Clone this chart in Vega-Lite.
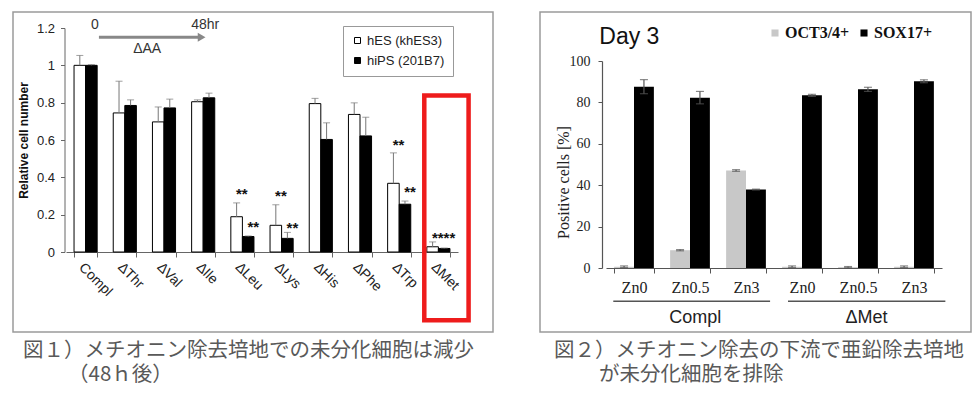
{
  "$schema": "https://vega.github.io/schema/vega-lite/v6.json",
  "padding": {"left": 2, "top": 11, "right": 0, "bottom": 0},
  "background": "white",
  "spacing": 45,
  "config": {
    "view": {"stroke": "#9a9a9a", "strokeWidth": 1.5},
    "font": "Liberation Sans",
    "axis": {"grid": false}
  },
  "resolve": {"scale": {"color": "independent"}, "legend": {"color": "independent"}},
  "datasets": {
    "cells": [
      {"aa": "Compl", "line": "hES (khES3)", "v": 1.0, "hi": 1.053},
      {"aa": "Compl", "line": "hiPS (201B7)", "v": 1.0, "hi": 1.004},
      {"aa": "∆Thr", "line": "hES (khES3)", "v": 0.745, "hi": 0.915},
      {"aa": "∆Thr", "line": "hiPS (201B7)", "v": 0.785, "hi": 0.815},
      {"aa": "∆Val", "line": "hES (khES3)", "v": 0.697, "hi": 0.777},
      {"aa": "∆Val", "line": "hiPS (201B7)", "v": 0.772, "hi": 0.819},
      {"aa": "∆Ile", "line": "hES (khES3)", "v": 0.805, "hi": 0.815},
      {"aa": "∆Ile", "line": "hiPS (201B7)", "v": 0.826, "hi": 0.851},
      {"aa": "∆Leu", "line": "hES (khES3)", "v": 0.189, "hi": 0.263},
      {"aa": "∆Leu", "line": "hiPS (201B7)", "v": 0.083, "hi": 0.086},
      {"aa": "∆Lys", "line": "hES (khES3)", "v": 0.143, "hi": 0.253},
      {"aa": "∆Lys", "line": "hiPS (201B7)", "v": 0.073, "hi": 0.105},
      {"aa": "∆His", "line": "hES (khES3)", "v": 0.795, "hi": 0.823},
      {"aa": "∆His", "line": "hiPS (201B7)", "v": 0.603, "hi": 0.692},
      {"aa": "∆Phe", "line": "hES (khES3)", "v": 0.737, "hi": 0.799},
      {"aa": "∆Phe", "line": "hiPS (201B7)", "v": 0.622, "hi": 0.722},
      {"aa": "∆Trp", "line": "hES (khES3)", "v": 0.368, "hi": 0.531},
      {"aa": "∆Trp", "line": "hiPS (201B7)", "v": 0.256, "hi": 0.273},
      {"aa": "∆Met", "line": "hES (khES3)", "v": 0.028, "hi": 0.054},
      {"aa": "∆Met", "line": "hiPS (201B7)", "v": 0.019, "hi": 0.021}
    ],
    "stars": [
      {"aa": "∆Leu", "line": "hES (khES3)", "y": 0.311, "t": "**"},
      {"aa": "∆Leu", "line": "hiPS (201B7)", "y": 0.132, "t": "**"},
      {"aa": "∆Lys", "line": "hES (khES3)", "y": 0.298, "t": "**"},
      {"aa": "∆Lys", "line": "hiPS (201B7)", "y": 0.129, "t": "**"},
      {"aa": "∆Trp", "line": "hES (khES3)", "y": 0.571, "t": "**"},
      {"aa": "∆Trp", "line": "hiPS (201B7)", "y": 0.32, "t": "**"},
      {"aa": "∆Met", "line": "hES (khES3)", "y": 0.075, "t": "****"}
    ],
    "pos": [
      {"k": "C-Zn0", "m": "OCT3/4+", "v": 0.6, "lo": 0.2, "hi": 1.0},
      {"k": "C-Zn0", "m": "SOX17+", "v": 87.6, "lo": 84.2, "hi": 91.0},
      {"k": "C-Zn0.5", "m": "OCT3/4+", "v": 8.6, "lo": 8.3, "hi": 8.9},
      {"k": "C-Zn0.5", "m": "SOX17+", "v": 82.3, "lo": 79.3, "hi": 85.3},
      {"k": "C-Zn3", "m": "OCT3/4+", "v": 47.1, "lo": 46.7, "hi": 47.5},
      {"k": "C-Zn3", "m": "SOX17+", "v": 37.9, "lo": 37.7, "hi": 38.1},
      {"k": "M-Zn0", "m": "OCT3/4+", "v": 0.6, "lo": 0.2, "hi": 1.0},
      {"k": "M-Zn0", "m": "SOX17+", "v": 83.4, "lo": 82.9, "hi": 83.9},
      {"k": "M-Zn0.5", "m": "OCT3/4+", "v": 0.4, "lo": 0.1, "hi": 0.7},
      {"k": "M-Zn0.5", "m": "SOX17+", "v": 86.3, "lo": 85.3, "hi": 87.3},
      {"k": "M-Zn3", "m": "OCT3/4+", "v": 0.6, "lo": 0.2, "hi": 1.0},
      {"k": "M-Zn3", "m": "SOX17+", "v": 90.2, "lo": 89.5, "hi": 90.9}
    ]
  },
  "hconcat": [
    {
      "width": 480,
      "height": 320,
      "title": {
        "text": ["図１）メチオニン除去培地での未分化細胞は減少", "\u200b\u3000\u3000\u2009（48ｈ後）"],
        "orient": "bottom", "anchor": "start", "frame": "group", "dx": 10, "offset": 9,
        "font": "Noto Sans CJK JP", "fontSize": 20.5, "fontWeight": "normal", "color": "#595959",
        "lineHeight": 24, "baseline": "top"
      },
      "resolve": {"scale": {"x": "independent"}},
      "layer": [
        {
          "data": {"name": "cells"},
          "encoding": {
            "x": {
              "field": "aa", "type": "nominal", "sort": null,
              "scale": {"type": "band", "range": [53, 445], "paddingInner": 0.41, "paddingOuter": 0.205}
            },
            "y": {
              "field": "v", "type": "quantitative",
              "scale": {"domain": [0, 1.2], "range": [240, 16], "nice": false, "zero": false}
            }
          },
          "layer": [
            {
              "transform": [{"filter": "datum.line === 'hES (khES3)'"}],
              "mark": {"type": "bar", "stroke": "black", "strokeWidth": 1, "width": {"band": 0.5}, "xOffset": -5.78},
              "encoding": {
                "x": {
                  "field": "aa", "type": "nominal", "sort": null,
                  "axis": {
                    "title": null, "offset": -80, "tickBand": "extent", "labelAngle": 45,
                    "labelAlign": "left", "labelBaseline": "top", "labelFontSize": 14,
                    "labelColor": "#222", "tickSize": 5, "labelPadding": 3, "labelOverlap": false,
                    "domainColor": "#666", "tickColor": "#666"
                  }
                },
                "y": {
                  "field": "v", "type": "quantitative",
                  "axis": {
                    "title": "Relative cell number", "titleFontWeight": "bold", "titleFontSize": 12,
                    "titleColor": "#111", "offset": -51.5, "values": [0, 0.2, 0.4, 0.6, 0.8, 1, 1.2],
                    "format": ".1~f", "labelFontSize": 13, "labelColor": "#222", "tickSize": 4,
                    "labelPadding": 6, "titlePadding": 6, "tickColor": "#666", "domainColor": "#666"
                  }
                },
                "color": {
                  "field": "line", "type": "nominal", "sort": null,
                  "scale": {"domain": ["hES (khES3)", "hiPS (201B7)"], "range": ["white", "black"]},
                  "legend": {
                    "orient": "none", "legendX": 330, "legendY": 14, "title": null,
                    "symbolType": "square", "symbolSize": 36, "symbolStrokeColor": "black",
                    "symbolStrokeWidth": 1, "labelFontSize": 13, "labelColor": "#222",
                    "strokeColor": "#999", "fillColor": "white", "padding": 8, "rowPadding": 6,
                    "labelOffset": 3
                  }
                }
              }
            },
            {
              "transform": [{"filter": "datum.line === 'hiPS (201B7)'"}],
              "mark": {"type": "bar", "stroke": "black", "strokeWidth": 1, "width": {"band": 0.5}, "xOffset": 5.78},
              "encoding": {
                "color": {"field": "line", "type": "nominal", "sort": null}
              }
            },
            {
              "transform": [{"filter": "datum.line === 'hES (khES3)'"}],
              "mark": {"type": "rule", "color": "#777", "strokeWidth": 1, "xOffset": -5.78},
              "encoding": {"y2": {"field": "hi"}}
            },
            {
              "transform": [{"filter": "datum.line === 'hiPS (201B7)'"}],
              "mark": {"type": "rule", "color": "#777", "strokeWidth": 1, "xOffset": 5.78},
              "encoding": {"y2": {"field": "hi"}}
            },
            {
              "transform": [{"filter": "datum.line === 'hES (khES3)'"}],
              "mark": {"type": "tick", "color": "#777", "size": 7, "thickness": 1, "xOffset": -5.78},
              "encoding": {"y": {"field": "hi", "type": "quantitative"}}
            },
            {
              "transform": [{"filter": "datum.line === 'hiPS (201B7)'"}],
              "mark": {"type": "tick", "color": "#777", "size": 7, "thickness": 1, "xOffset": 5.78},
              "encoding": {"y": {"field": "hi", "type": "quantitative"}}
            },
            {
              "data": {"name": "stars"},
              "transform": [{"filter": "datum.line === 'hES (khES3)'"}],
              "mark": {"type": "text", "align": "left", "baseline": "middle", "xOffset": -6.5, "fontSize": 15, "fontWeight": "bold", "color": "#111"},
              "encoding": {
                "y": {"field": "y", "type": "quantitative"},
                "text": {"field": "t"}
              }
            },
            {
              "data": {"name": "stars"},
              "transform": [{"filter": "datum.line === 'hiPS (201B7)'"}],
              "mark": {"type": "text", "align": "left", "baseline": "middle", "xOffset": 5, "fontSize": 15, "fontWeight": "bold", "color": "#111"},
              "encoding": {
                "y": {"field": "y", "type": "quantitative"},
                "text": {"field": "t"}
              }
            }
          ]
        },
        {
          "layer": [
            {
              "data": {"values": [{"x": 9.14, "x2": 10.27, "y": 0.839, "y2": -0.366}]},
              "mark": {"type": "rect", "fill": null, "fillOpacity": 0, "stroke": "#ee1c1c", "strokeWidth": 4.5},
              "encoding": {
                "x": {"field": "x", "type": "quantitative", "scale": {"domain": [0, 10], "range": [53, 445], "nice": false, "zero": false}, "axis": null},
                "x2": {"field": "x2"},
                "y": {"field": "y", "type": "quantitative", "scale": {"domain": [0, 1.2], "range": [240, 16], "nice": false, "zero": false}},
                "y2": {"field": "y2"}
              }
            },
            {
              "data": {"values": [{"x": 0.84, "x2": 3.4, "y": 1.15}]},
              "mark": {"type": "rule", "color": "#888", "strokeWidth": 3},
              "encoding": {
                "x": {"field": "x", "type": "quantitative", "scale": {"domain": [0, 10], "range": [53, 445], "nice": false, "zero": false}, "axis": null},
                "x2": {"field": "x2"},
                "y": {"field": "y", "type": "quantitative", "scale": {"domain": [0, 1.2], "range": [240, 16], "nice": false, "zero": false}}
              }
            },
            {
              "data": {"values": [{"x": 3.46, "y": 1.15}]},
              "mark": {"type": "point", "shape": "triangle-right", "filled": true, "color": "#888", "size": 80, "opacity": 1},
              "encoding": {
                "x": {"field": "x", "type": "quantitative", "scale": {"domain": [0, 10], "range": [53, 445], "nice": false, "zero": false}, "axis": null},
                "y": {"field": "y", "type": "quantitative", "scale": {"domain": [0, 1.2], "range": [240, 16], "nice": false, "zero": false}}
              }
            },
            {
              "data": {"values": [
                {"x": 0.74, "y": 1.214, "t": "0"},
                {"x": 3.55, "y": 1.214, "t": "48hr"},
                {"x": 2.07, "y": 1.086, "t": "ΔAA"}
              ]},
              "mark": {"type": "text", "align": "center", "baseline": "middle", "fontSize": 14, "color": "#333"},
              "encoding": {
                "x": {"field": "x", "type": "quantitative", "scale": {"domain": [0, 10], "range": [53, 445], "nice": false, "zero": false}, "axis": null},
                "y": {"field": "y", "type": "quantitative", "scale": {"domain": [0, 1.2], "range": [240, 16], "nice": false, "zero": false}},
                "text": {"field": "t"}
              }
            }
          ]
        }
      ]
    },
    {
      "width": 431,
      "height": 320,
      "title": {
        "text": ["図２）メチオニン除去の下流で亜鉛除去培地", "\u200b\u3000\u3000\u2009が未分化細胞を排除"],
        "orient": "bottom", "anchor": "start", "frame": "group", "dx": 14, "offset": 9,
        "font": "Noto Sans CJK JP", "fontSize": 20.5, "fontWeight": "normal", "color": "#595959",
        "lineHeight": 24, "baseline": "top"
      },
      "resolve": {"scale": {"x": "independent"}},
      "layer": [
        {
          "data": {"name": "pos"},
          "encoding": {
            "x": {
              "field": "k", "type": "nominal", "sort": null,
              "scale": {"type": "band", "range": [66, 402], "paddingInner": 0.29, "paddingOuter": 0.145}
            },
            "y": {
              "field": "v", "type": "quantitative",
              "scale": {"domain": [0, 100], "range": [256, 49], "nice": false, "zero": false}
            }
          },
          "layer": [
            {
              "transform": [{"filter": "datum.m === 'OCT3/4+'"}],
              "mark": {"type": "bar", "width": {"band": 0.5}, "xOffset": -9.94},
              "encoding": {
                "x": {
                  "field": "k", "type": "nominal", "sort": null,
                  "axis": {
                    "title": null, "offset": -64, "tickBand": "extent", "labelExpr": "split(datum.value, '-')[1]",
                    "labelAngle": 0, "labelFont": "Liberation Serif", "labelFontSize": 16, "labelColor": "#222",
                    "tickSize": 5, "labelPadding": 6, "domainColor": "#555", "tickColor": "#555", "domainWidth": 1.2
                  }
                },
                "y": {
                  "field": "v", "type": "quantitative",
                  "axis": {
                    "title": "Positive cells [%]", "titleFont": "Liberation Serif", "titleFontWeight": "normal",
                    "titleFontSize": 16, "titleColor": "#222", "offset": -62,
                    "values": [0, 10, 20, 30, 40, 50, 60, 70, 80, 90, 100],
                    "labelFont": "Liberation Serif", "labelFontSize": 14, "labelColor": "#222",
                    "tickSize": 4, "labelPadding": 8, "titlePadding": -2, "titleY": 170,
                    "domainColor": "#555", "tickColor": "#555", "domainWidth": 1.2
                  }
                },
                "color": {
                  "field": "m", "type": "nominal", "sort": null,
                  "scale": {"domain": ["OCT3/4+", "SOX17+"], "range": ["#c8c8c8", "#000000"]},
                  "legend": {
                    "orient": "none", "legendX": 227, "legendY": 13, "direction": "horizontal", "title": null,
                    "symbolType": "square", "symbolSize": 50, "labelFont": "Liberation Serif",
                    "labelFontWeight": "bold", "labelFontSize": 16, "labelColor": "#111",
                    "columnPadding": 6, "labelOffset": 2, "padding": 0
                  }
                }
              }
            },
            {
              "transform": [{"filter": "datum.m === 'SOX17+'"}],
              "mark": {"type": "bar", "width": {"band": 0.5}, "xOffset": 9.94},
              "encoding": {"color": {"field": "m", "type": "nominal", "sort": null}}
            },
            {
              "transform": [{"filter": "datum.m === 'OCT3/4+'"}],
              "mark": {"type": "rule", "color": "#555", "strokeWidth": 1.2, "xOffset": -9.94},
              "encoding": {"y": {"field": "lo", "type": "quantitative"}, "y2": {"field": "hi"}}
            },
            {
              "transform": [{"filter": "datum.m === 'SOX17+'"}],
              "mark": {"type": "rule", "color": "#555", "strokeWidth": 1.2, "xOffset": 9.94},
              "encoding": {"y": {"field": "lo", "type": "quantitative"}, "y2": {"field": "hi"}}
            },
            {
              "transform": [{"filter": "datum.m === 'OCT3/4+'"}],
              "mark": {"type": "tick", "color": "#555", "size": 8, "thickness": 1.2, "xOffset": -9.94},
              "encoding": {"y": {"field": "hi", "type": "quantitative"}}
            },
            {
              "transform": [{"filter": "datum.m === 'SOX17+'"}],
              "mark": {"type": "tick", "color": "#555", "size": 8, "thickness": 1.2, "xOffset": 9.94},
              "encoding": {"y": {"field": "hi", "type": "quantitative"}}
            },
            {
              "transform": [{"filter": "datum.m === 'OCT3/4+'"}],
              "mark": {"type": "tick", "color": "#555", "size": 8, "thickness": 1.2, "xOffset": -9.94},
              "encoding": {"y": {"field": "lo", "type": "quantitative"}}
            },
            {
              "transform": [{"filter": "datum.m === 'SOX17+'"}],
              "mark": {"type": "tick", "color": "#555", "size": 8, "thickness": 1.2, "xOffset": 9.94},
              "encoding": {"y": {"field": "lo", "type": "quantitative"}}
            }
          ]
        },
        {
          "layer": [
            {
              "data": {"values": [
                {"x": 0.13, "x2": 2.93, "y": -16.1},
                {"x": 3.25, "x2": 6.06, "y": -16.1}
              ]},
              "mark": {"type": "rule", "color": "#555", "strokeWidth": 1.5},
              "encoding": {
                "x": {"field": "x", "type": "quantitative", "scale": {"domain": [0, 6], "range": [66, 402], "nice": false, "zero": false}, "axis": null},
                "x2": {"field": "x2"},
                "y": {"field": "y", "type": "quantitative", "scale": {"domain": [0, 100], "range": [256, 49], "nice": false, "zero": false}}
              }
            },
            {
              "data": {"values": [
                {"x": 1.595, "y": -24.3, "t": "Compl"},
                {"x": 4.65, "y": -24.3, "t": "ΔMet"}
              ]},
              "mark": {"type": "text", "align": "center", "baseline": "middle", "fontSize": 18, "color": "#222"},
              "encoding": {
                "x": {"field": "x", "type": "quantitative", "scale": {"domain": [0, 6], "range": [66, 402], "nice": false, "zero": false}, "axis": null},
                "y": {"field": "y", "type": "quantitative", "scale": {"domain": [0, 100], "range": [256, 49], "nice": false, "zero": false}},
                "text": {"field": "t"}
              }
            },
            {
              "data": {"values": [{"x": -0.12, "y": 111.6, "t": "Day 3"}]},
              "mark": {"type": "text", "align": "left", "baseline": "middle", "fontSize": 23, "color": "#111"},
              "encoding": {
                "x": {"field": "x", "type": "quantitative", "scale": {"domain": [0, 6], "range": [66, 402], "nice": false, "zero": false}, "axis": null},
                "y": {"field": "y", "type": "quantitative", "scale": {"domain": [0, 100], "range": [256, 49], "nice": false, "zero": false}},
                "text": {"field": "t"}
              }
            }
          ]
        }
      ]
    }
  ]
}
